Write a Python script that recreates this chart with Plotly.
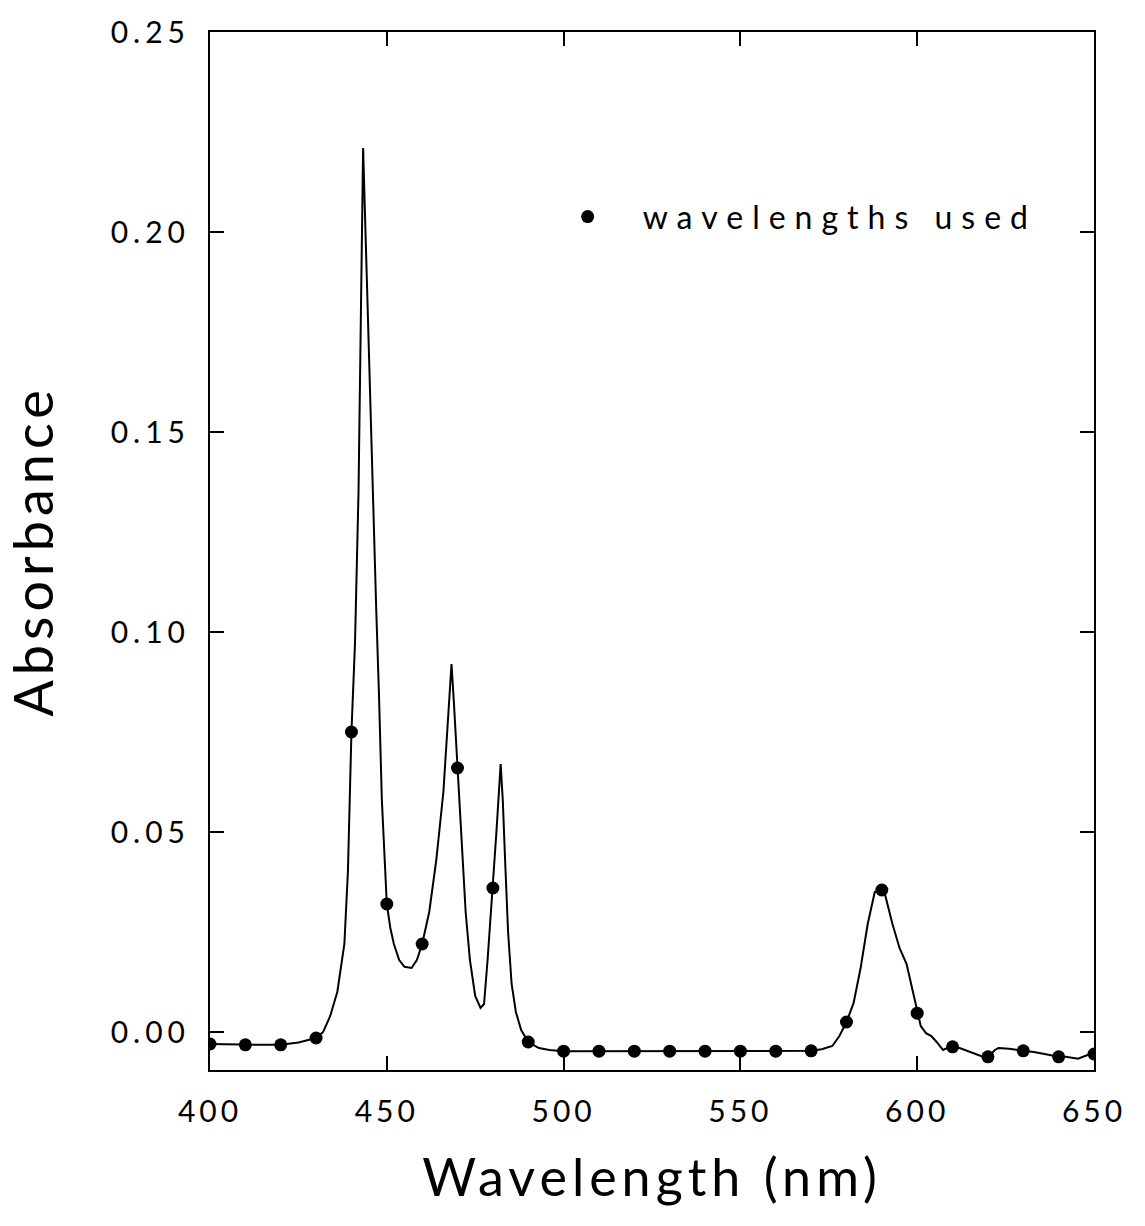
import plotly.graph_objects as go

# Sampled wavelengths (markers)
used_nm = [400, 410, 420, 430, 440, 450, 460, 470, 480, 490, 500, 510, 520,
           530, 540, 550, 560, 570, 580, 590, 600, 610, 620, 630, 640, 650]
used_abs = [-0.0030, -0.0032, -0.0032, -0.0015, 0.0750, 0.0320, 0.0220, 0.0660,
            0.0360, -0.0025, -0.0048, -0.0048, -0.0048, -0.0048, -0.0048, -0.0048,
            -0.0048, -0.0047, 0.0025, 0.0355, 0.0047, -0.0037, -0.0062, -0.0047,
            -0.0062, -0.0055]

# Continuous spectrum
spec_nm = [400, 405, 410, 415, 420, 425, 430, 432, 434, 436, 438, 439, 440, 441,
           442, 442.7, 443.3, 444.3, 445.2, 446.2, 447, 447.8, 448.6, 450, 451,
           452, 453.5, 455, 457, 458.5, 460, 462, 464, 466, 467.3, 468.3, 469,
           470, 471, 472.3, 473.5, 475, 476.5, 477.5, 478.5, 480, 481, 482.2,
           482.8, 483.5, 484.3, 485.3, 486.5, 488, 490, 493, 496, 500, 510, 520,
           530, 540, 550, 560, 570, 573, 576, 578, 580, 582, 584, 586, 588, 590,
           591, 593, 595, 597, 598.5, 600, 601, 602.5, 604, 605.5, 607.3, 608.5,
           610, 612, 615, 618, 620, 622, 623, 626, 630, 633, 636, 640, 642,
           645.5, 648, 650]
spec_abs = [-0.0030, -0.0031, -0.0032, -0.0032, -0.0032, -0.0026, -0.0015, 0.0000,
            0.0040, 0.0100, 0.0220, 0.0400, 0.0750, 0.0970, 0.1350, 0.1800,
            0.2210, 0.1900, 0.1600, 0.1310, 0.1060, 0.0840, 0.0580, 0.0320,
            0.0260, 0.0220, 0.0180, 0.0163, 0.0160, 0.0180, 0.0220, 0.0300,
            0.0430, 0.0600, 0.0780, 0.0920, 0.0820, 0.0660, 0.0480, 0.0300,
            0.0180, 0.0090, 0.0060, 0.0070, 0.0180, 0.0360, 0.0500, 0.0670,
            0.0580, 0.0420, 0.0250, 0.0120, 0.0050, 0.0005, -0.0025, -0.0040,
            -0.0045, -0.0048, -0.0048, -0.0048, -0.0048, -0.0048, -0.0048,
            -0.0048, -0.0047, -0.0043, -0.0035, -0.0010, 0.0025, 0.0072, 0.0160,
            0.0270, 0.0350, 0.0355, 0.0340, 0.0270, 0.0210, 0.0170, 0.0110,
            0.0047, 0.0015, -0.0003, -0.0010, -0.0025, -0.0045, -0.0040, -0.0037,
            -0.0040, -0.0050, -0.0060, -0.0062, -0.0045, -0.0040, -0.0042,
            -0.0047, -0.0050, -0.0055, -0.0062, -0.0062, -0.0067, -0.0058, -0.0055]

x_ticks = [400, 450, 500, 550, 600, 650]
y_ticks = [0.00, 0.05, 0.10, 0.15, 0.20, 0.25]

FONT = "Lato"


def spaced(s, px):
    return f'<span style="letter-spacing:{px}px">{s}</span>'


fig = go.Figure()
fig.add_trace(go.Scatter(x=spec_nm, y=spec_abs, mode="lines",
                         line=dict(color="black", width=2),
                         showlegend=False, hoverinfo="skip"))
fig.add_trace(go.Scatter(x=used_nm, y=used_abs, mode="markers",
                         marker=dict(color="black", size=13, symbol="circle"),
                         name=spaced("wavelengths used", 9), showlegend=True))

axis_common = dict(showline=True, linecolor="black", linewidth=2,
                   mirror="ticks", ticks="inside", ticklen=14, tickwidth=1.5,
                   tickcolor="black", showgrid=False, zeroline=False,
                   tickfont=dict(family=FONT, size=30, color="black"))

fig.update_layout(
    width=1145, height=1226,
    margin=dict(l=210, r=51, t=27, b=156),
    paper_bgcolor="white", plot_bgcolor="white",
    xaxis=dict(range=[400, 650], tickvals=x_ticks,
               ticktext=[spaced(str(v), 4) for v in x_ticks],
               ticklabelstandoff=14,
               title=dict(text=spaced("Wavelength (nm)", 5),
                          font=dict(family=FONT, size=52, color="black"),
                          standoff=33),
               **axis_common),
    yaxis=dict(range=[-0.0095, 0.25], tickvals=y_ticks,
               ticktext=[spaced(f"{v:.2f}", 5) for v in y_ticks],
               ticklabelstandoff=12,
               title=dict(text=spaced("Absorbance", 5),
                          font=dict(family=FONT, size=54, color="black"),
                          standoff=40),
               **axis_common),
    legend=dict(x=0.365, y=0.822, xanchor="left", yanchor="middle",
                itemwidth=100, bgcolor="rgba(0,0,0,0)",
                font=dict(family=FONT, size=32, color="black")),
)

fig.write_html("out.html")
